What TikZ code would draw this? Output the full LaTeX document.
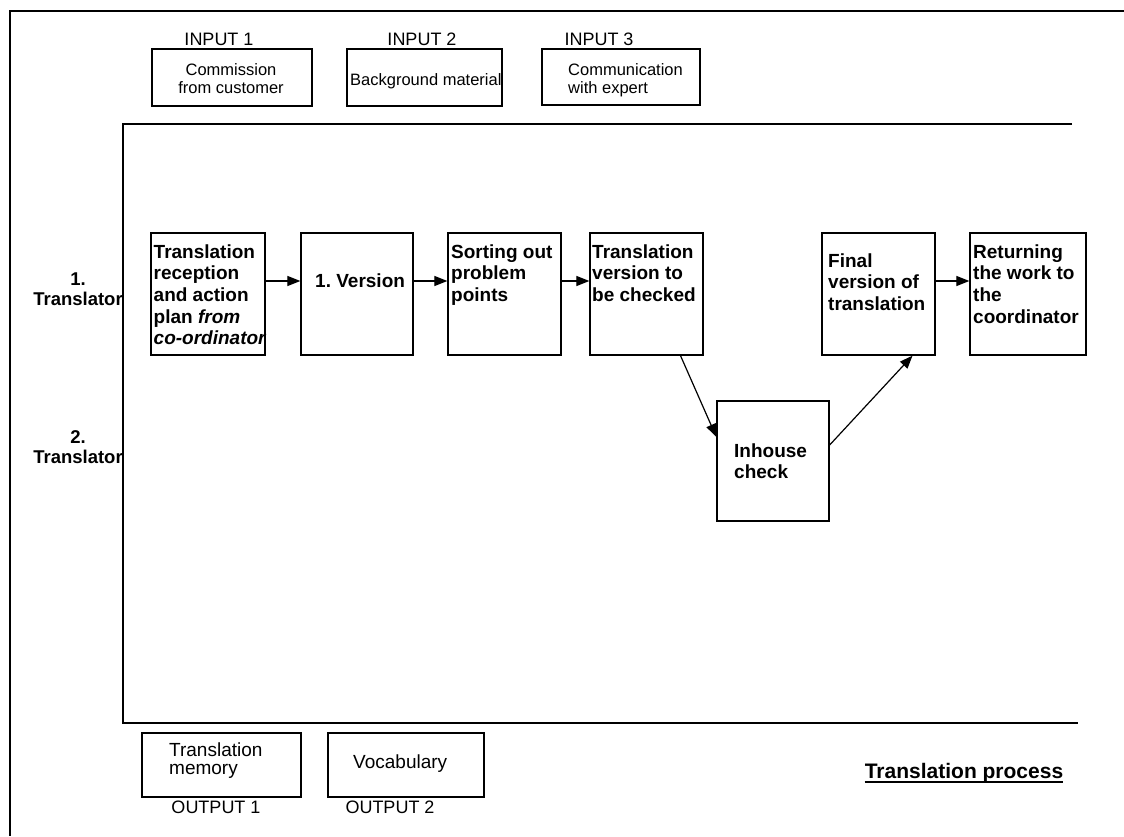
\documentclass[tikz,border=0pt]{standalone}
\usepackage{fontspec}
\setmainfont{Liberation Sans}
\usetikzlibrary{arrows.meta}
\newcommand\myfs[2]{\fontsize{#1}{#2}\selectfont}
\frenchspacing
\begin{document}
\begin{tikzpicture}[x=1pt,y=-1pt,
  pbox/.style={draw, line width=1.3pt, fill=white, inner sep=0pt},
  iobox/.style={draw, line width=1.2pt, fill=white, inner sep=0pt},
  ptext/.style={anchor=north west, align=left, inner sep=0pt, font=\bfseries\myfs{19}{21.7}},
  lane/.style={anchor=north, align=center, inner sep=0pt, font=\bfseries\myfs{18.5}{19}},
  iolabel/.style={anchor=base, inner sep=0pt, font=\myfs{18}{20}},
  intext/.style={inner sep=0pt, font=\myfs{16.5}{18}},
  outtext/.style={inner sep=0pt, font=\myfs{19}{17.5}},
  arr/.style={-{Triangle[length=13pt,width=10pt]}, line width=1.2pt}]
\useasboundingbox (0,0) rectangle (1124,836);
\fill[white] (0,0) rectangle (1124,836);

% inputs
\node[iolabel] (in1l) at (219,45) {INPUT 1};
\node[iolabel] (in2l) at (422,45) {INPUT 2};
\node[iolabel] (in3l) at (599,45) {INPUT 3};
\node[iobox, minimum width=160, minimum height=57] (in1) at (232,77.5) {};
\node[iobox, minimum width=155, minimum height=57] (in2) at (424.5,77.5) {};
\node[iobox, minimum width=158, minimum height=56] (in3) at (621,77) {};
\node[intext, anchor=north, align=center] (in1t) at (231,62.4) {\strut Commission\\from customer};
\node[intext, anchor=base west] (in2t) at (350,85) {Background material};
\node[intext, anchor=north west, align=left] (in3t) at (568,62.4) {\strut Communication\\with expert};

% lanes
\node[lane] (lane1) at (78,271.7) {\strut 1.\\Translator};
\node[lane] (lane2) at (78,429.7) {\strut 2.\\Translator};

% frames
\draw[line width=2pt] (1124,11) -- (10,11) -- (10,836);
\draw[line width=1.5pt] (1072,124) -- (123,124) -- (123,723) -- (1078,723);

% process boxes
\node[pbox, minimum width=114, minimum height=122] (A) at (208,294) {};
\node[pbox, minimum width=112, minimum height=122] (B) at (357,294) {};
\node[pbox, minimum width=113, minimum height=122] (C) at (504.5,294) {};
\node[pbox, minimum width=113, minimum height=122] (D) at (646.5,294) {};
\node[pbox, minimum width=113, minimum height=122] (E) at (878.5,294) {};
\node[pbox, minimum width=116, minimum height=122] (F) at (1028,294) {};
\node[pbox, minimum width=112, minimum height=120] (H) at (773,461) {};

\node[ptext] (At) at (153.5,242.8) {\strut Translation\\reception\\and action\\plan \textit{from}\\\textit{co-ordinator}};
\node[ptext, anchor=base west] (Bt) at (315,287) {1. Version};
\node[ptext] (Ct) at (451,242.8) {\strut Sorting out\\problem\\points};
\node[ptext] (Dt) at (592,242.8) {\strut Translation\\version to\\be checked};
\node[ptext] (Et) at (828,251.8) {\strut Final\\version of\\translation};
\node[ptext] (Ft) at (973,242.8) {\strut Returning\\the work to\\the\\coordinator};
\node[ptext] (Ht) at (734,441.8) {\strut Inhouse\\check};

% arrows
\draw[arr] ([yshift=13pt]A.east) -- ([yshift=13pt]B.west);
\draw[arr] ([yshift=13pt]B.east) -- ([yshift=13pt]C.west);
\draw[arr] ([yshift=13pt]C.east) -- ([yshift=13pt]D.west);
\draw[arr] ([yshift=13pt]E.east) -- ([yshift=13pt]F.west);
\draw[arr] ([xshift=34pt]D.south) -- ([yshift=24pt]H.west);
\draw[arr] ([yshift=16pt]H.east) -- ([xshift=34pt]E.south);

% outputs
\node[iobox, minimum width=159, minimum height=64] (out1) at (221.5,765) {};
\node[iobox, minimum width=156, minimum height=64] (out2) at (406,765) {};
\node[outtext, anchor=north west, align=left] (out1t) at (169,742.75) {\strut Translation\\memory};
\node[outtext, anchor=base west] (out2t) at (353,768) {Vocabulary};
\node[iolabel] (out1l) at (216,813) {OUTPUT 1};
\node[iolabel] (out2l) at (390,813) {OUTPUT 2};

% title
\node[anchor=base, inner sep=0pt, font=\bfseries\myfs{21}{24}] (title) at (964,778) {Translation process};
\draw[line width=1.3pt] ([yshift=-4pt]title.base west) -- ([yshift=-4pt]title.base east);
\end{tikzpicture}
\end{document}
